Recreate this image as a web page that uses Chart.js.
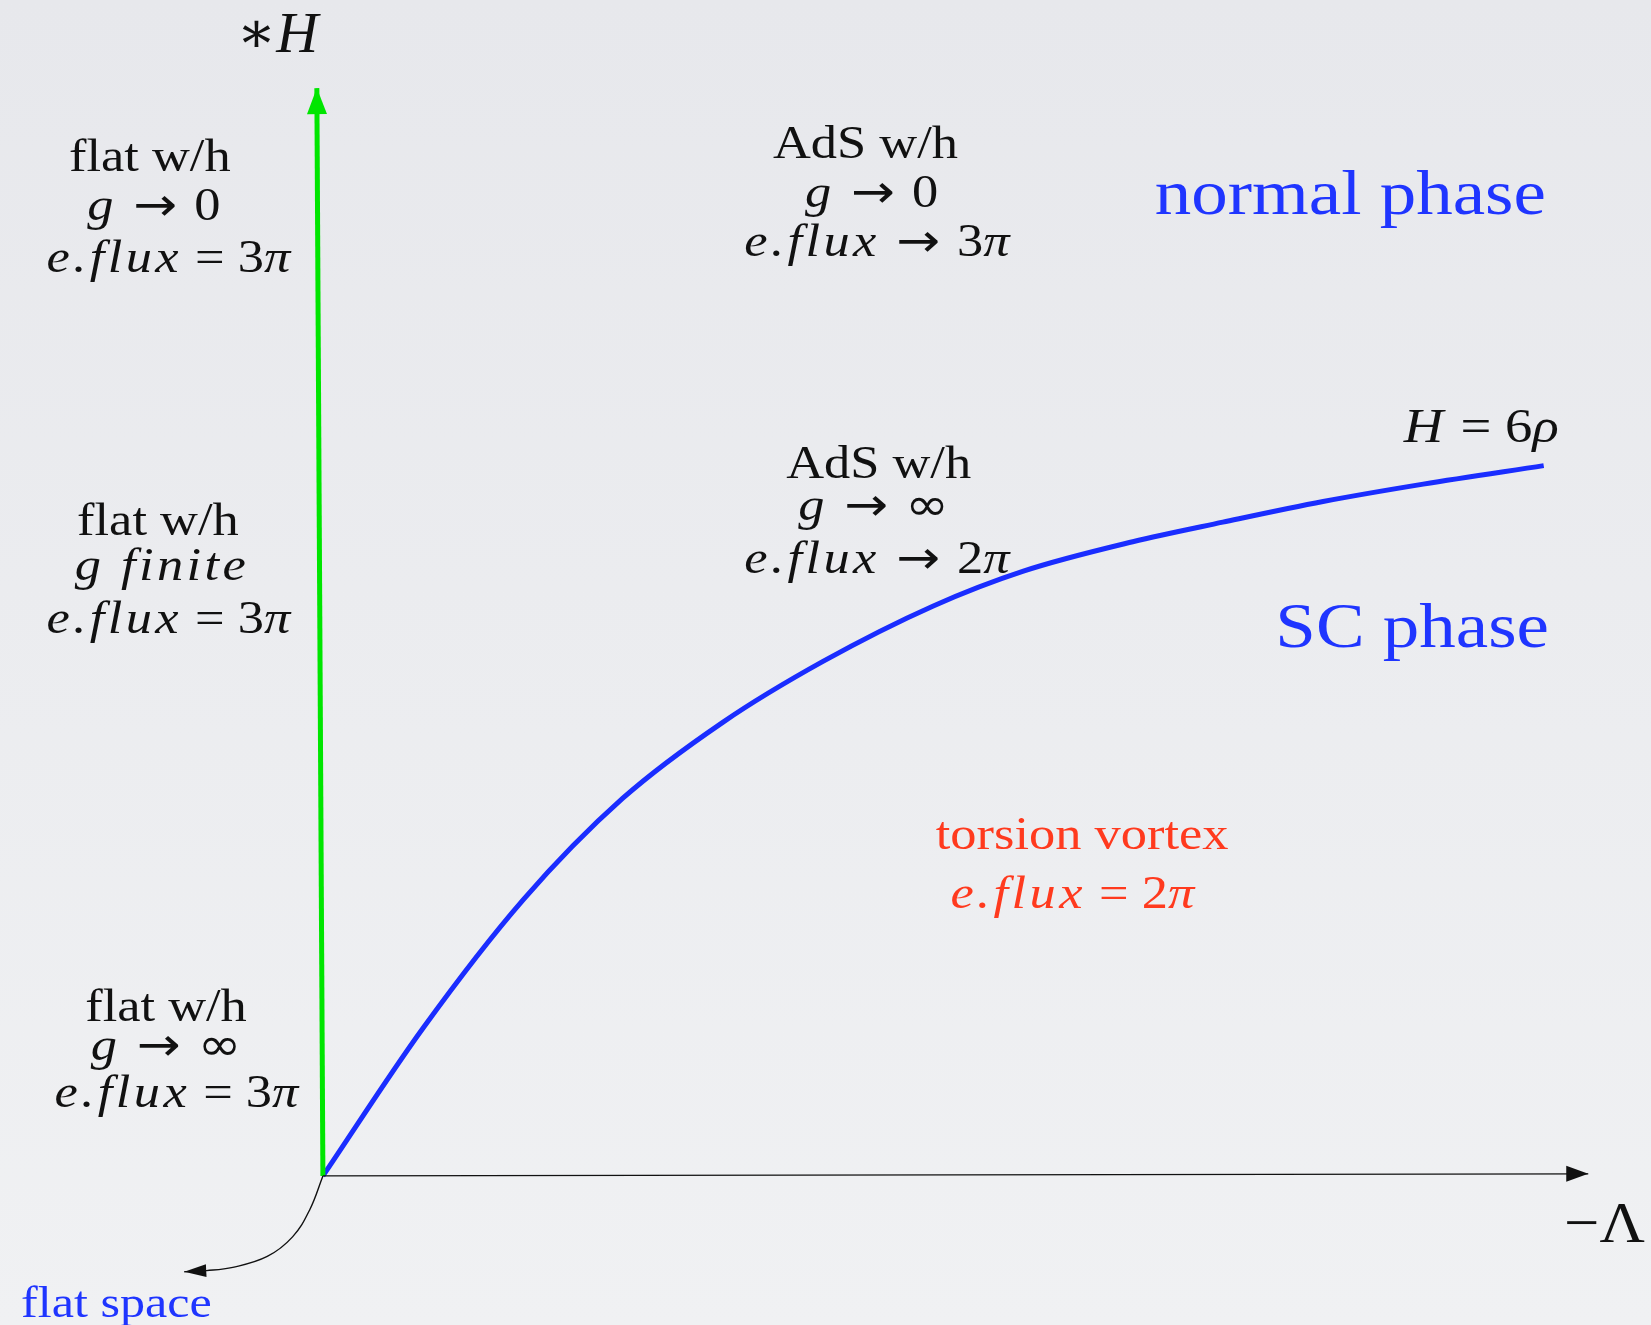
<!DOCTYPE html>
<html>
<head>
<meta charset="utf-8">
<script src="https://cdn.jsdelivr.net/npm/chart.js@4.4.1/dist/chart.umd.min.js"></script>
<style>
  html, body { margin: 0; padding: 0; background: #eceef1; }
  canvas { display: block; }
</style>
</head>
<body>
<canvas id="phaseChart" width="1651" height="1325"></canvas>
<script>
// Phase diagram: *H (vertical) vs -Lambda (horizontal), arbitrary units

// critical line H = 6 rho
const curveX = [0, 0.99, 1.98, 2.96, 3.95, 4.94, 6.03, 6.92, 8.00, 8.89, 9.88, 10.87, 12.06];
const curveY = [0, 1.36, 2.54, 3.47, 4.17, 4.73, 5.24, 5.56, 5.83, 6.01, 6.20, 6.36, 6.53];

// green *H axis (flat w/h branch)
const greenX = [0, -0.06];
const greenY = [0, 10];

// -Lambda axis
const axisX = [0, 12.5];
const axisY = [0, 0.02];

// little arrow pointing to "flat space"
const flatX = [0, -0.13, -0.30, -0.55, -0.89, -1.15, -1.37];
const flatY = [0, -0.31, -0.56, -0.74, -0.84, -0.87, -0.88];

function toPoints(xs, ys) {
    return xs.map((x, i) => ({ x: x, y: ys[i] }));
}

// text annotations, anchored in data units
// runs: [text, style]  r = roman, i = math italic, s = symbol
const BLACK = '#111111';
const BLUE = '#1f35ff';
const RED = '#ff3a1e';
const annotations = [
    { x: -0.435, y: 10.33, size: 58, color: BLACK, stretch: 1, runs: [['∗', 'r'], ['H', 'i']] },

    { x: -1.71, y: 9.24, size: 46, color: BLACK, runs: [['flat w/h', 'r']] },
    { x: -1.67, y: 8.79, size: 46, color: BLACK, runs: [['g', 'i'], [' → ', 's'], ['0', 'r']] },
    { x: -1.51, y: 8.31, size: 46, color: BLACK, runs: [['e.flux', 'i'], [' = 3', 'r'], ['π', 'i']] },

    { x: 5.36, y: 9.36, size: 46, color: BLACK, runs: [['AdS w/h', 'r']] },
    { x: 5.42, y: 8.91, size: 46, color: BLACK, runs: [['g', 'i'], [' → ', 's'], ['0', 'r']] },
    { x: 5.49, y: 8.46, size: 46, color: BLACK, runs: [['e.flux', 'i'], [' → ', 's'], ['3', 'r'], ['π', 'i']] },

    { x: 10.15, y: 8.84, size: 64, color: BLUE, runs: [['normal phase', 'r']] },

    { x: -1.63, y: 5.89, size: 46, color: BLACK, runs: [['flat w/h', 'r']] },
    { x: -1.59, y: 5.48, size: 46, color: BLACK, runs: [['g finite', 'i']] },
    { x: -1.51, y: 4.99, size: 46, color: BLACK, runs: [['e.flux', 'i'], [' = 3', 'r'], ['π', 'i']] },

    { x: 5.49, y: 6.42, size: 46, color: BLACK, runs: [['AdS w/h', 'r']] },
    { x: 5.44, y: 6.03, size: 46, color: BLACK, runs: [['g', 'i'], [' → ∞', 's']] },
    { x: 5.49, y: 5.54, size: 46, color: BLACK, runs: [['e.flux', 'i'], [' → ', 's'], ['2', 'r'], ['π', 'i']] },

    { x: 10.76, y: 4.86, size: 64, color: BLUE, runs: [['SC phase', 'r']] },
    { x: 11.46, y: 6.75, size: 48, color: BLACK, runs: [['H', 'i'], [' = 6', 'r'], ['ρ', 'i']] },

    { x: 7.50, y: 3.01, size: 46, color: RED, runs: [['torsion vortex', 'r']] },
    { x: 7.42, y: 2.46, size: 46, color: RED, runs: [['e.flux', 'i'], [' = 2', 'r'], ['π', 'i']] },

    { x: -1.55, y: 1.42, size: 46, color: BLACK, runs: [['flat w/h', 'r']] },
    { x: -1.55, y: 1.07, size: 46, color: BLACK, runs: [['g', 'i'], [' → ∞', 's']] },
    { x: -1.43, y: 0.63, size: 46, color: BLACK, runs: [['e.flux', 'i'], [' = 3', 'r'], ['π', 'i']] },

    { x: 12.66, y: -0.61, size: 58, color: BLACK, stretch: 1.08, runs: [['−Λ', 'r']] },
    { x: -2.04, y: -1.30, size: 44, color: BLUE, runs: [['flat space', 'r']] }
];

function setFont(ctx, size, style) {
    if (style === 's') {
        ctx.font = size + 'px "DejaVu Sans", sans-serif';
        ctx.letterSpacing = '0px';
    } else if (style === 'i') {
        ctx.font = 'italic ' + size + 'px "Liberation Serif", "DejaVu Serif", serif';
        ctx.letterSpacing = '3px';
    } else {
        ctx.font = size + 'px "Liberation Serif", "DejaVu Serif", serif';
        ctx.letterSpacing = '0px';
    }
}

// background
const backgroundPlugin = {
    id: 'background',
    beforeDraw(chart) {
        const ctx = chart.ctx;
        const g = ctx.createLinearGradient(0, 0, 0, chart.height);
        g.addColorStop(0, '#e7e8ec');
        g.addColorStop(1, '#f0f1f3');
        ctx.save();
        ctx.fillStyle = g;
        ctx.fillRect(0, 0, chart.width, chart.height);
        ctx.restore();
    }
};

// arrow heads at the end of datasets that ask for one
const arrowPlugin = {
    id: 'arrows',
    afterDatasetsDraw(chart) {
        const ctx = chart.ctx;
        chart.data.datasets.forEach((ds, i) => {
            if (!ds.arrow) return;
            const pts = chart.getDatasetMeta(i).data;
            const a = pts[pts.length - 2], b = pts[pts.length - 1];
            const ang = Math.atan2(b.y - a.y, b.x - a.x);
            const len = ds.arrow.length, half = ds.arrow.width / 2;
            ctx.save();
            ctx.translate(b.x, b.y);
            ctx.rotate(ang);
            ctx.beginPath();
            ctx.moveTo(0, 0);
            ctx.lineTo(-len, -half);
            ctx.lineTo(-len, half);
            ctx.closePath();
            ctx.fillStyle = ds.arrow.color;
            ctx.fill();
            ctx.restore();
        });
    }
};

// labels placed through the scales
const labelPlugin = {
    id: 'labels',
    afterDraw(chart) {
        const ctx = chart.ctx;
        const xs = chart.scales.x, ys = chart.scales.y;
        ctx.save();
        ctx.textBaseline = 'alphabetic';
        ctx.textAlign = 'left';
        annotations.forEach(a => {
            const stretch = a.stretch || 1.14;
            let total = 0;
            a.runs.forEach(r => {
                setFont(ctx, a.size, r[1]);
                total += ctx.measureText(r[0]).width;
            });
            ctx.save();
            ctx.translate(xs.getPixelForValue(a.x), ys.getPixelForValue(a.y));
            ctx.scale(stretch, 1);
            ctx.fillStyle = a.color;
            let px = -total / 2;
            a.runs.forEach(r => {
                setFont(ctx, a.size, r[1]);
                ctx.fillText(r[0], px, 0);
                px += ctx.measureText(r[0]).width;
            });
            ctx.restore();
        });
        ctx.restore();
    }
};

new Chart(document.getElementById('phaseChart').getContext('2d'), {
    type: 'scatter',
    data: {
        datasets: [
            {
                label: '-Lambda axis',
                data: toPoints(axisX, axisY),
                showLine: true,
                borderColor: '#111111',
                borderWidth: 1.3,
                pointRadius: 0,
                arrow: { length: 22, width: 16, color: '#111111' }
            },
            {
                label: 'flat space',
                data: toPoints(flatX, flatY),
                showLine: true,
                borderColor: '#111111',
                borderWidth: 1.4,
                tension: 0.4,
                pointRadius: 0,
                arrow: { length: 22, width: 13, color: '#111111' }
            },
            {
                label: '*H axis',
                data: toPoints(greenX, greenY),
                showLine: true,
                borderColor: '#00e600',
                borderWidth: 5,
                pointRadius: 0,
                arrow: { length: 26, width: 20, color: '#00e600' }
            },
            {
                label: 'H = 6 rho',
                data: toPoints(curveX, curveY),
                showLine: true,
                borderColor: '#1a2dff',
                borderWidth: 5,
                cubicInterpolationMode: 'monotone',
                pointRadius: 0
            }
        ]
    },
    options: {
        responsive: false,
        animation: false,
        layout: { padding: 0 },
        plugins: {
            legend: { display: false },
            tooltip: { enabled: false }
        },
        scales: {
            x: { type: 'linear', min: -3.19, max: 13.12, display: false },
            y: { type: 'linear', min: -1.37, max: 10.81, display: false }
        }
    },
    plugins: [backgroundPlugin, arrowPlugin, labelPlugin]
});
</script>
</body>
</html>
